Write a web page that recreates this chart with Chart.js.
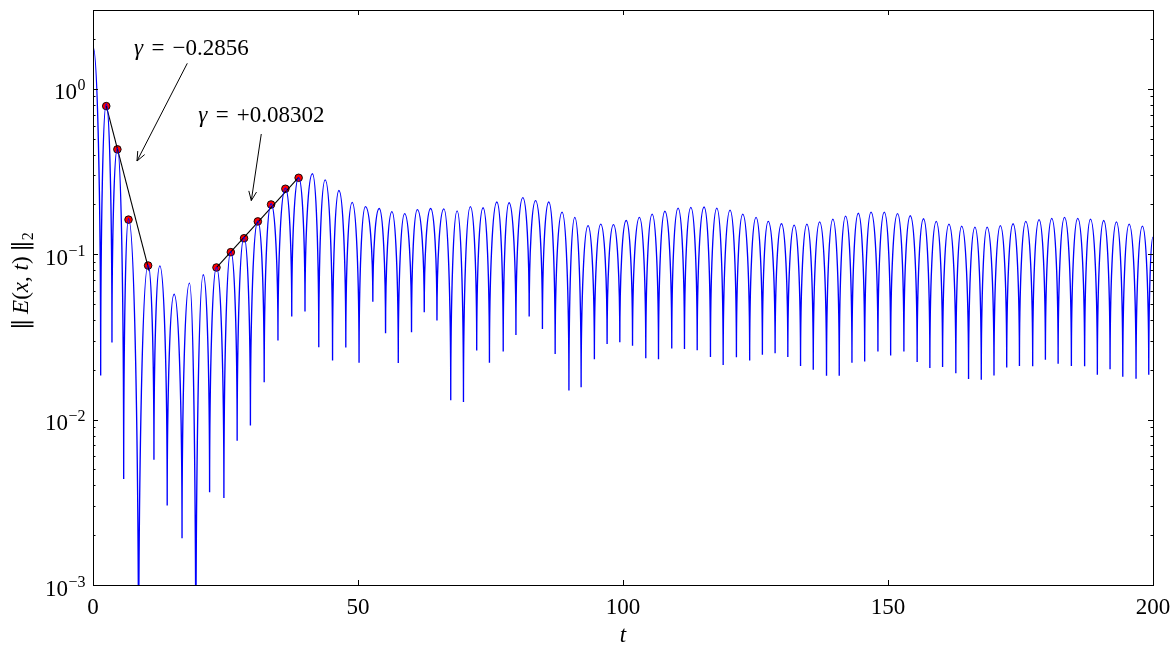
<!DOCTYPE html>
<html lang="en">
<head>
<meta charset="UTF-8">
<title>Field energy decay</title>
<script src="https://cdn.jsdelivr.net/npm/chart.js"></script>
<style>
    body { margin: 0; background: #fff; }
    canvas { display: block; }
</style>
</head>
<body>
<canvas id="chart" width="1176" height="649"></canvas>
<script>
// peaks and troughs of ||E(x,t)||_2 (alternating)
const tVals = [
    0, 1.45, 2.5, 3.58, 4.6, 5.79, 6.7, 8.6, 10.4, 11.5,
    12.6, 14.0, 15.3, 16.8, 18.2, 19.4, 20.8, 22.0, 23.3, 24.7,
    26.0, 27.2, 28.5, 29.7, 31.1, 32.3, 33.6, 34.9, 36.3, 37.5,
    38.8, 40.0, 41.4, 42.6, 43.8, 45.2, 46.4, 47.7, 48.9, 50.2,
    51.4, 52.8, 54.0, 55.2, 56.4, 57.6, 58.8, 60.1, 61.2, 62.5,
    63.7, 64.9, 66.2, 67.5, 68.7, 69.9, 71.2, 72.4, 73.6, 74.8,
    76.2, 77.4, 78.5, 79.8, 81.1, 82.3, 83.5, 84.8, 86.0, 87.2,
    88.5, 89.8, 90.9, 92.1, 93.4, 94.6, 95.8, 97.0, 98.2, 99.4,
    100.6, 101.8, 103.1, 104.3, 105.5, 106.7, 107.9, 109.2, 110.4, 111.6,
    112.8, 114.0, 115.3, 116.5, 117.7, 118.9, 120.2, 121.4, 122.6, 123.9,
    125.1, 126.3, 127.4, 128.7, 129.9, 131.1, 132.3, 133.5, 134.7, 135.9,
    137.1, 138.4, 139.6, 140.8, 142.0, 143.2, 144.4, 145.6, 146.8, 148.1,
    149.3, 150.5, 151.8, 153.0, 154.2, 155.5, 156.7, 157.9, 159.1, 160.3,
    161.5, 162.8, 163.9, 165.2, 166.4, 167.6, 168.7, 170.0, 171.2, 172.4,
    173.6, 174.8, 176.0, 177.3, 178.5, 179.7, 180.9, 182.1, 183.3, 184.6,
    185.8, 187.1, 188.2, 189.5, 190.7, 191.9, 193.1, 194.3, 195.5, 196.8,
    198.0, 199.2, 200
];
const eVals = [
    1.80, 0.0185, 0.81, 0.0293, 0.438, 0.00438, 0.164, 0.0002, 0.0863, 0.00572,
    0.085, 0.00302, 0.0573, 0.00192, 0.0669, 0.0002, 0.0752, 0.00364, 0.0832, 0.00336,
    0.104, 0.00746, 0.127, 0.00923, 0.159, 0.0168, 0.202, 0.0301, 0.251, 0.0421,
    0.291, 0.045, 0.307, 0.0274, 0.282, 0.0228, 0.243, 0.0273, 0.206, 0.0221,
    0.194, 0.0516, 0.189, 0.0333, 0.181, 0.022, 0.176, 0.0338, 0.186, 0.0446,
    0.189, 0.0397, 0.188, 0.0131, 0.183, 0.0128, 0.194, 0.0262, 0.191, 0.0221,
    0.207, 0.0258, 0.205, 0.0325, 0.22, 0.042, 0.211, 0.0353, 0.207, 0.0249,
    0.18, 0.015, 0.167, 0.0157, 0.149, 0.0232, 0.152, 0.0287, 0.151, 0.0294,
    0.16, 0.028, 0.167, 0.0235, 0.175, 0.0232, 0.182, 0.0269, 0.19, 0.0267,
    0.192, 0.0263, 0.193, 0.0239, 0.19, 0.0214, 0.185, 0.0238, 0.175, 0.0228,
    0.167, 0.0247, 0.158, 0.0252, 0.153, 0.0239, 0.150, 0.0211, 0.152, 0.020,
    0.157, 0.0184, 0.163, 0.0184, 0.170, 0.0221, 0.177, 0.0225, 0.180, 0.0258,
    0.180, 0.0244, 0.176, 0.0258, 0.171, 0.0223, 0.164, 0.0205, 0.158, 0.0208,
    0.152, 0.0191, 0.148, 0.0176, 0.146, 0.0174, 0.146, 0.0185, 0.149, 0.0207,
    0.153, 0.0211, 0.158, 0.021, 0.162, 0.023, 0.165, 0.0218, 0.167, 0.0211,
    0.165, 0.021, 0.163, 0.0187, 0.160, 0.0202, 0.157, 0.0182, 0.152, 0.0177,
    0.148, 0.0187, 0.127
];

// peaks used for the two exponential fits
const fit1T = [2.5, 4.6, 6.7, 10.4];
const fit1E = [0.787, 0.431, 0.162, 0.0855];
const fit2T = [23.3, 26.0, 28.5, 31.1, 33.6, 36.3, 38.8];
const fit2E = [0.0832, 0.103, 0.125, 0.158, 0.2, 0.249, 0.29];
// fitted lines (end points)
const line1T = [2.5, 10.6];
const line1E = [0.79, 0.079];
const line2T = [23.3, 38.8];
const line2E = [0.083, 0.292];

// axes
const xTicks = [0, 50, 100, 150, 200];
const yDecades = [-3, -2, -1, 0];
const yMin = 0.001, yMax = 3;

// annotations
const gammaText = ['\u22120.2856', '+0.08302'];
const gammaT = [7.74, 19.87];
const gammaE = [1.603, 0.628];
const arrowFromT = [17.79, 31.75];
const arrowFromE = [1.428, 0.5336];
const arrowToT = [8.30, 29.87];
const arrowToE = [0.3664, 0.2112];

const SERIF = "'Liberation Serif', 'DejaVu Serif', serif";
const ROMAN = '23px ' + SERIF;
const ITALIC = 'italic 23px ' + SERIF;
const SMALL = '16px ' + SERIF;
const NORM = "23px 'DejaVu Serif', serif";

function pts(ts, es) {
    return ts.map((t, i) => ({ x: t, y: es[i] }));
}

// rounded tops and sharp cusps: horizontal tangent at peaks, vertical at troughs
const archPlugin = {
    id: 'arch',
    beforeDatasetDraw(chart, args) {
        if (args.index !== 0) return;
        const data = args.meta.data;
        const k = 0.55;
        for (let i = 0; i < data.length; i++) {
            const p = data[i];
            const prev = data[i - 1] || p;
            const next = data[i + 1] || p;
            const trough = p.y >= prev.y && p.y >= next.y && i > 0;
            if (trough) {
                p.cp1x = p.x; p.cp1y = p.y + k * (prev.y - p.y);
                p.cp2x = p.x; p.cp2y = p.y + k * (next.y - p.y);
            } else {
                p.cp1x = p.x - k * (p.x - prev.x); p.cp1y = p.y;
                p.cp2x = p.x + k * (next.x - p.x); p.cp2y = p.y;
            }
        }
        args.meta.dataset._pointsUpdated = true;
    }
};

function drawRuns(ctx, runs, x, y) {
    let cx = x;
    for (const [text, font, dy] of runs) {
        ctx.font = font;
        ctx.fillText(text, cx, y + (dy || 0));
        cx += ctx.measureText(text).width;
    }
    return cx;
}

function arrow(ctx, x0, y0, x1, y1) {
    ctx.beginPath();
    ctx.moveTo(x0, y0);
    ctx.lineTo(x1, y1);
    const a = Math.atan2(y1 - y0, x1 - x0);
    const len = 10, spread = 0.4;
    ctx.moveTo(x1 - len * Math.cos(a - spread), y1 - len * Math.sin(a - spread));
    ctx.lineTo(x1, y1);
    ctx.lineTo(x1 - len * Math.cos(a + spread), y1 - len * Math.sin(a + spread));
    ctx.stroke();
}

const framePlugin = {
    id: 'frame',
    afterDraw(chart) {
        const ctx = chart.ctx;
        const xs = chart.scales.x, ys = chart.scales.y;
        const { left, right, top, bottom } = chart.chartArea;
        ctx.save();
        ctx.strokeStyle = '#000';
        ctx.fillStyle = '#000';
        ctx.lineWidth = 1;
        ctx.strokeRect(left + 0.5, top + 0.5, right - left, bottom - top);

        // ticks inside, all four sides
        ctx.beginPath();
        xTicks.forEach(v => {
            const px = Math.round(xs.getPixelForValue(v)) + 0.5;
            ctx.moveTo(px, bottom); ctx.lineTo(px, bottom - 5);
            ctx.moveTo(px, top); ctx.lineTo(px, top + 5);
        });
        yDecades.forEach(d => {
            for (let m = 1; m <= 9; m++) {
                const v = m * Math.pow(10, d);
                if (v < yMin || v > yMax) continue;
                const py = Math.round(ys.getPixelForValue(v)) + 0.5;
                const len = m === 1 ? 5 : 2.5;
                ctx.moveTo(left, py); ctx.lineTo(left + len, py);
                ctx.moveTo(right, py); ctx.lineTo(right - len, py);
            }
        });
        ctx.stroke();

        // tick labels
        ctx.textBaseline = 'alphabetic';
        ctx.textAlign = 'center';
        ctx.font = ROMAN;
        xTicks.forEach(v => {
            ctx.fillText(String(v), xs.getPixelForValue(v), 614);
        });
        ctx.textAlign = 'left';
        yDecades.forEach(d => {
            const py = ys.getPixelForValue(Math.pow(10, d));
            const exp = d < 0 ? '\u2212' + (-d) : String(d);
            ctx.font = SMALL;
            const ew = ctx.measureText(exp).width;
            ctx.font = ROMAN;
            const tw = ctx.measureText('10').width;
            const x0 = 85 - ew - tw;
            ctx.fillText('10', x0, py + 10.5);
            ctx.font = SMALL;
            ctx.fillText(exp, x0 + tw + 0.5, py + 1.5);
        });

        // axis titles
        ctx.font = ITALIC;
        ctx.textAlign = 'center';
        ctx.fillText('t', (left + right) / 2, 642);

        ctx.save();
        ctx.translate(28, 330);
        ctx.rotate(-Math.PI / 2);
        ctx.textAlign = 'left';
        drawRuns(ctx, [
            ['\u2016', NORM], ['\u2009', ROMAN], ['E', ITALIC], ['(', ROMAN], ['x', ITALIC],
            [', ', ROMAN], ['t', ITALIC], [')', ROMAN], ['\u2009', ROMAN], ['\u2016', NORM],
            ['2', SMALL, 5]
        ], 0, 0);
        ctx.restore();

        // gamma annotations with arrows
        ctx.textAlign = 'left';
        gammaText.forEach((txt, i) => {
            const x = xs.getPixelForValue(gammaT[i]);
            const y = ys.getPixelForValue(gammaE[i]);
            ctx.font = ITALIC;
            ctx.fillText('\u03b3', x, y);
            ctx.font = ROMAN;
            ctx.fillText('=', x + 17.5, y);
            ctx.fillText(txt, x + 38.5, y);
            arrow(ctx,
                xs.getPixelForValue(arrowFromT[i]), ys.getPixelForValue(arrowFromE[i]),
                xs.getPixelForValue(arrowToT[i]), ys.getPixelForValue(arrowToE[i]));
        });
        ctx.restore();
    }
};

const dotStyle = {
    type: 'line',
    showLine: false,
    pointRadius: 3.8,
    pointBackgroundColor: '#ff0000',
    pointBorderColor: '#000',
    pointBorderWidth: 0.9
};

new Chart(document.getElementById('chart'), {
    type: 'line',
    data: {
        datasets: [{
            data: pts(tVals, eVals),
            borderColor: '#0000ff',
            borderWidth: 1.35,
            pointRadius: 0,
            tension: 0.4
        }, {
            data: pts(line1T, line1E),
            borderColor: '#000',
            borderWidth: 1.1,
            pointRadius: 0
        }, {
            data: pts(line2T, line2E),
            borderColor: '#000',
            borderWidth: 1.1,
            pointRadius: 0
        },
        Object.assign({ data: pts(fit1T, fit1E) }, dotStyle),
        Object.assign({ data: pts(fit2T, fit2E) }, dotStyle)]
    },
    options: {
        responsive: false,
        animation: false,
        layout: { padding: { left: 93, right: 23, top: 10, bottom: 64 } },
        plugins: { legend: { display: false }, tooltip: { enabled: false } },
        scales: {
            x: { type: 'linear', min: 0, max: 200, display: false },
            y: { type: 'logarithmic', min: yMin, max: yMax, display: false }
        }
    },
    plugins: [archPlugin, framePlugin]
});
</script>
</body>
</html>
